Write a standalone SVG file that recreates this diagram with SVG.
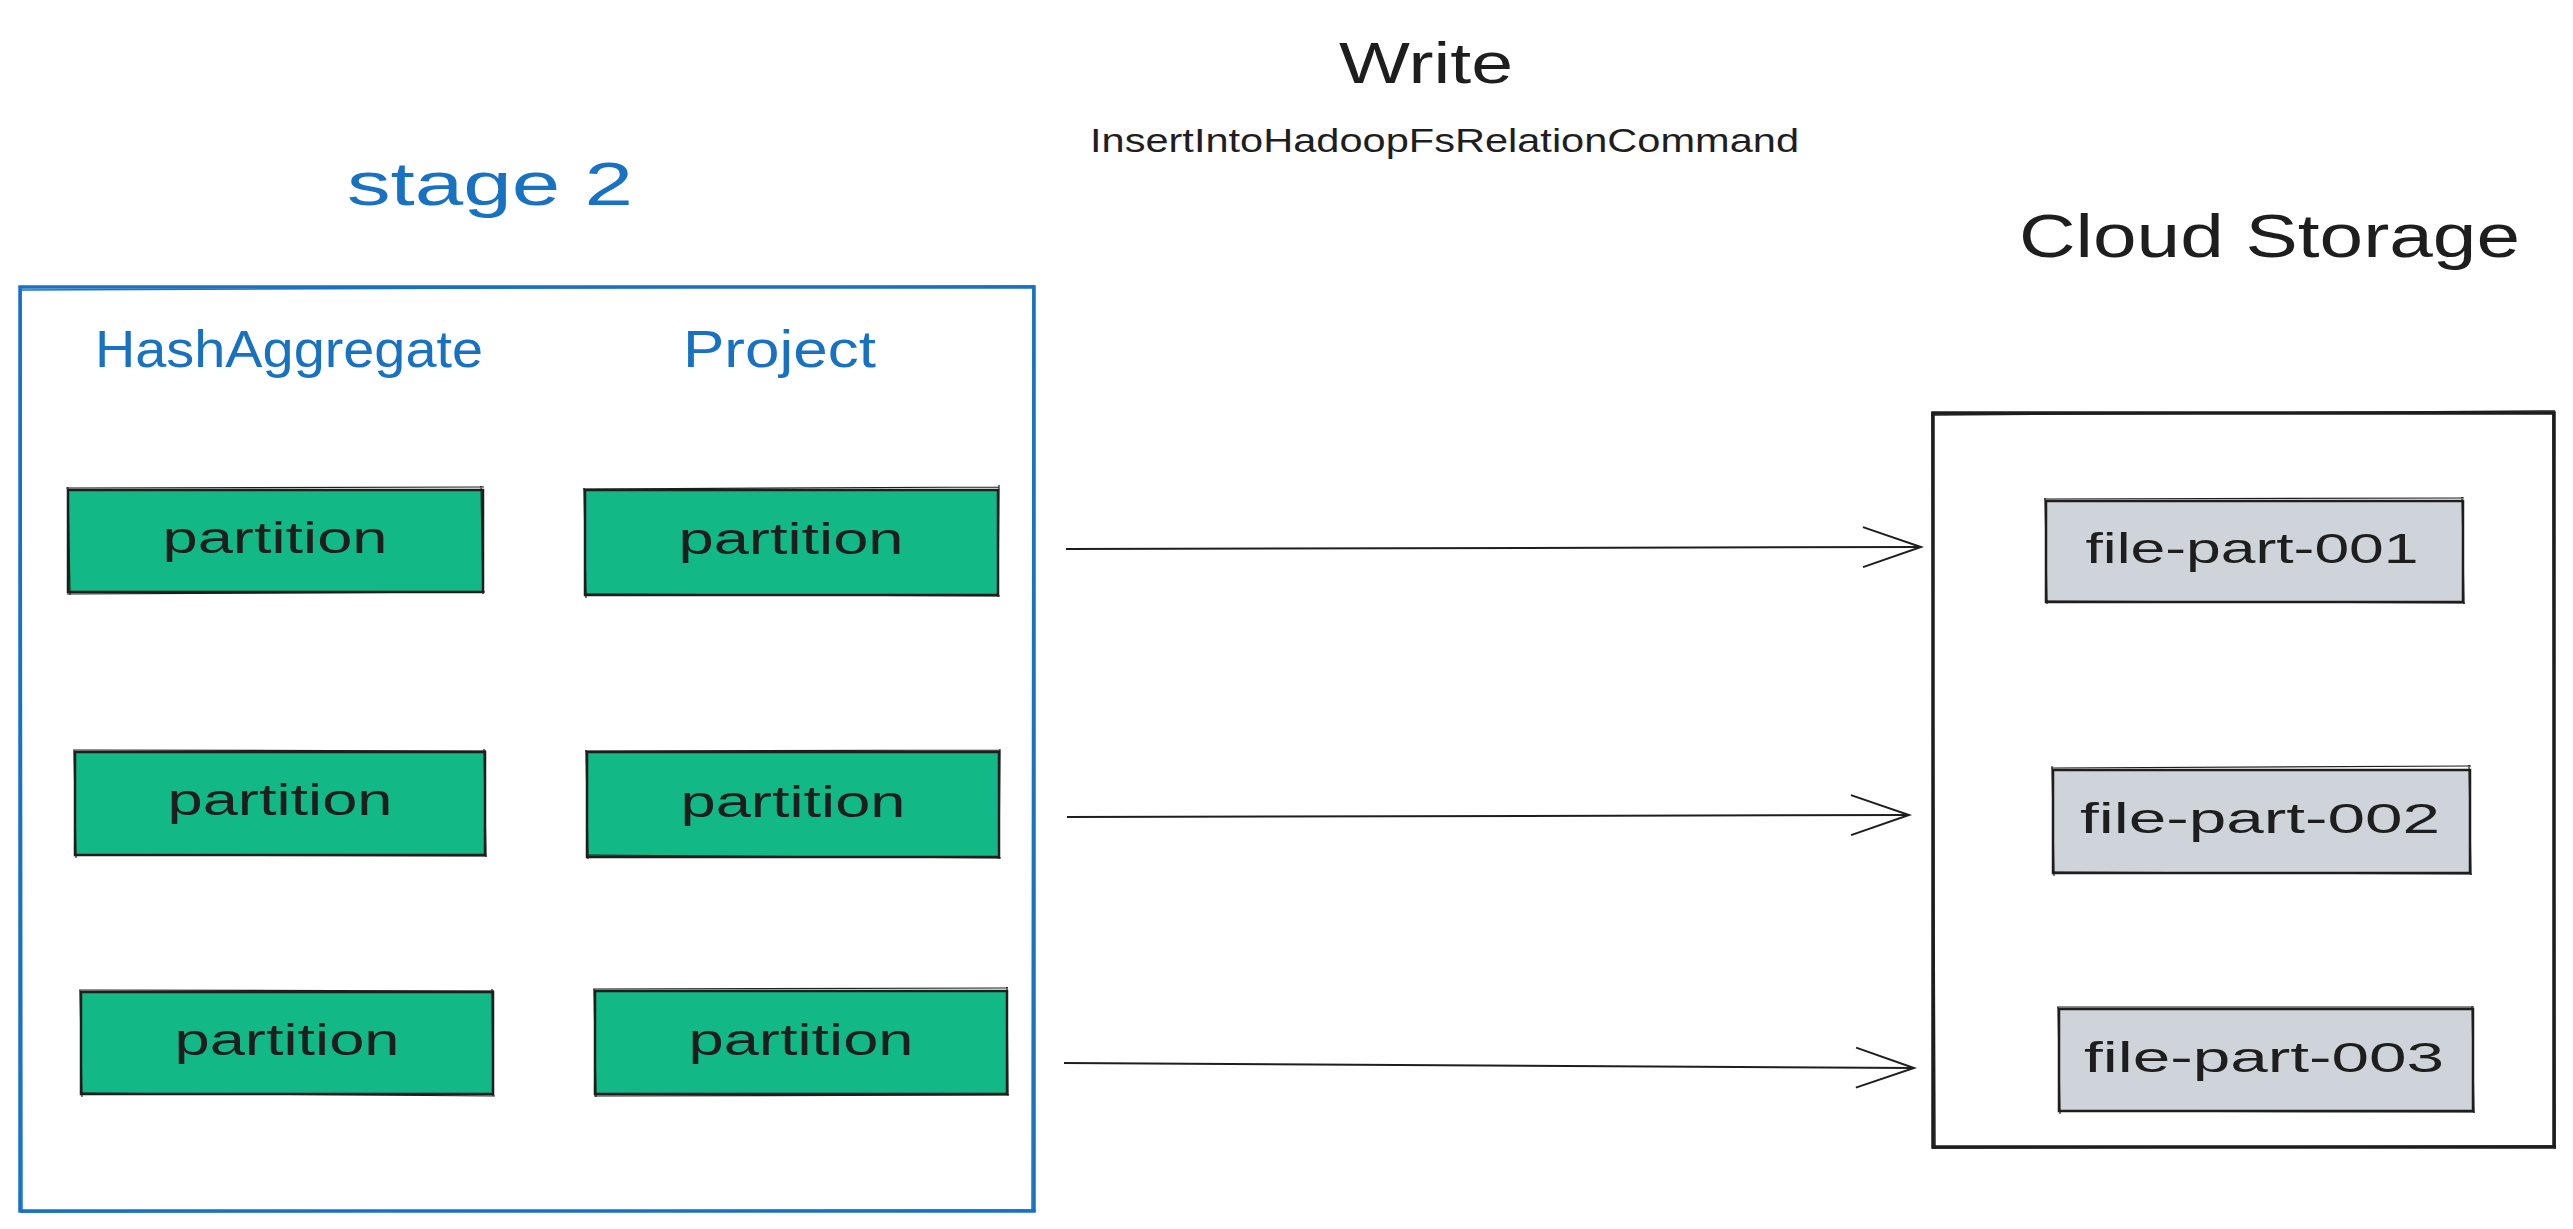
<svg xmlns="http://www.w3.org/2000/svg" width="2573" height="1229" viewBox="0 0 2573 1229">
  <style>
    text { font-family: "Liberation Sans", "Noto Sans", sans-serif; }
    .blue { fill: #1971c2; }
    .ink { fill: #1e1e1e; }
    .part { fill: #12b886; }
    .file { fill: #ced4da; }
    .edge { fill: none; stroke: #1e1e1e; stroke-width: 2.5; }
    .edge2 { fill: none; stroke: #1e1e1e; stroke-width: 1.2; }
    .conn { fill: none; stroke: #1e1e1e; stroke-width: 2; }
    .lbl { font-size: 44px; text-anchor: middle; }
    .flbl { font-size: 42px; text-anchor: middle; }
  </style>
  <defs>
    <marker id="arr" markerUnits="userSpaceOnUse" markerWidth="70" markerHeight="50" viewBox="-65 -25 70 50" refX="0" refY="0" orient="auto">
      <path d="M-58,-20 L0,0 L-58,20" fill="none" stroke="#1e1e1e" stroke-width="2"/>
    </marker>
  </defs>
  <rect width="2573" height="1229" fill="#ffffff"/>

  <g id="title-write">
    <text class="ink" x="1339" y="83" font-size="57" textLength="174" lengthAdjust="spacingAndGlyphs">Write</text>
  </g>
  <g id="title-command">
    <text class="ink" x="1090" y="152" font-size="34" textLength="709" lengthAdjust="spacingAndGlyphs">InsertIntoHadoopFsRelationCommand</text>
  </g>

  <g id="stage2">
    <rect x="20" y="287" width="1014" height="924" fill="none" stroke="#1971c2" stroke-width="3.5"/>
    <path d="M19,290 L1035,286 M1033,285 L1032,1212 M1036,1210 L21,1212 M22,1213 L21,288" fill="none" stroke="#1971c2" stroke-width="1.5"/>
    <text class="blue" x="347" y="205" font-size="62" textLength="286" lengthAdjust="spacingAndGlyphs">stage 2</text>
    <text class="blue" x="95" y="367" font-size="52" textLength="388" lengthAdjust="spacingAndGlyphs">HashAggregate</text>
    <text class="blue" x="683" y="367" font-size="52" textLength="193" lengthAdjust="spacingAndGlyphs">Project</text>
  </g>

  <g id="hash-p1">
    <rect class="part" x="68" y="490" width="415" height="102"/>
    <rect class="edge" x="68" y="490" width="415" height="102"/>
    <path class="edge2" d="M66,488 L484,487 M481,486 L483,594 M485,592 L67,594 M70,595 L68,487"/>
    <text class="ink lbl" x="275" y="553" textLength="225" lengthAdjust="spacingAndGlyphs">partition</text>
  </g>
  <g id="hash-p2">
    <rect class="part" x="75" y="752" width="410" height="103"/>
    <rect class="edge" x="75" y="752" width="410" height="103"/>
    <path class="edge2" d="M73,750 L486,751 M484,749 L486,857 M487,856 L74,855 M76,858 L74,750"/>
    <text class="ink lbl" x="280" y="815" textLength="225" lengthAdjust="spacingAndGlyphs">partition</text>
  </g>
  <g id="hash-p3">
    <rect class="part" x="81" y="992" width="412" height="102"/>
    <rect class="edge" x="81" y="992" width="412" height="102"/>
    <path class="edge2" d="M79,990 L494,991 M492,989 L493,1096 M495,1096 L80,1093 M82,1097 L80,990"/>
    <text class="ink lbl" x="287" y="1055" textLength="225" lengthAdjust="spacingAndGlyphs">partition</text>
  </g>
  <g id="proj-p1">
    <rect class="part" x="585" y="490" width="413" height="105"/>
    <rect class="edge" x="585" y="490" width="413" height="105"/>
    <path class="edge2" d="M583,489 L999,487 M999,485 L998,597 M1000,596 L584,594 M586,598 L584,488"/>
    <text class="ink lbl" x="791" y="554" textLength="225" lengthAdjust="spacingAndGlyphs">partition</text>
  </g>
  <g id="proj-p2">
    <rect class="part" x="587" y="752" width="412" height="105"/>
    <rect class="edge" x="587" y="752" width="412" height="105"/>
    <path class="edge2" d="M585,751 L1000,750 M1000,749 L999,859 M1001,858 L586,855 M588,859 L586,750"/>
    <text class="ink lbl" x="793" y="817" textLength="225" lengthAdjust="spacingAndGlyphs">partition</text>
  </g>
  <g id="proj-p3">
    <rect class="part" x="595" y="991" width="412" height="103"/>
    <rect class="edge" x="595" y="991" width="412" height="103"/>
    <path class="edge2" d="M593,989 L1008,988 M1007,987 L1008,1096 M1009,1095 L594,1096 M596,1097 L594,989"/>
    <text class="ink lbl" x="801" y="1055" textLength="225" lengthAdjust="spacingAndGlyphs">partition</text>
  </g>

  <g id="cloud-storage">
    <text class="ink" x="2019" y="257" font-size="62" textLength="501" lengthAdjust="spacingAndGlyphs">Cloud Storage</text>
    <rect x="1933" y="413" width="621" height="734" fill="none" stroke="#1e1e1e" stroke-width="3.5"/>
    <path d="M1931,415 L2555,411 M2553,412 L2555,1149 M2556,1146 L1932,1148 M1935,1149 L1932,412" fill="none" stroke="#1e1e1e" stroke-width="1.5"/>
  </g>
  <g id="file-001">
    <rect class="file" x="2046" y="501" width="417" height="101"/>
    <rect class="edge" x="2046" y="501" width="417" height="101"/>
    <path class="edge2" d="M2044,499 L2464,498 M2462,497 L2464,604 M2465,603 L2045,601 M2047,604 L2045,498"/>
    <text class="ink flbl" x="2252" y="563" textLength="333" lengthAdjust="spacingAndGlyphs">file-part-001</text>
  </g>
  <g id="file-002">
    <rect class="file" x="2053" y="770" width="417" height="103"/>
    <rect class="edge" x="2053" y="770" width="417" height="103"/>
    <path class="edge2" d="M2051,768 L2471,766 M2469,765 L2471,875 M2472,874 L2052,872 M2054,876 L2052,766"/>
    <text class="ink flbl" x="2260" y="833" textLength="360" lengthAdjust="spacingAndGlyphs">file-part-002</text>
  </g>
  <g id="file-003">
    <rect class="file" x="2059" y="1009" width="414" height="102"/>
    <rect class="edge" x="2059" y="1009" width="414" height="102"/>
    <path class="edge2" d="M2057,1007 L2474,1007 M2472,1006 L2474,1113 M2475,1112 L2058,1111 M2060,1114 L2058,1007"/>
    <text class="ink flbl" x="2264" y="1072" textLength="360" lengthAdjust="spacingAndGlyphs">file-part-003</text>
  </g>

  <g id="connectors">
    <path class="conn" d="M1066,549 L1921,547" marker-end="url(#arr)"/>
    <path class="conn" d="M1067,817 L1909,815" marker-end="url(#arr)"/>
    <path class="conn" d="M1064,1063 L1914,1068" marker-end="url(#arr)"/>
  </g>
</svg>
